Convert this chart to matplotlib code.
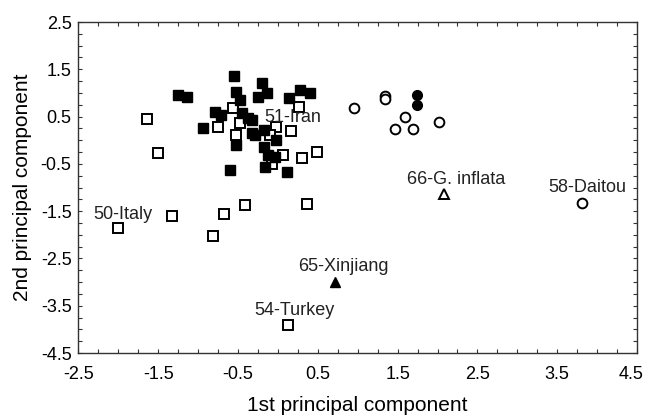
import numpy as np
import matplotlib
matplotlib.use("Agg")
import matplotlib.pyplot as plt
import matplotlib.transforms as mtransforms
from matplotlib.ticker import MultipleLocator

# filled squares
fsq_x = [-0.55, -1.25, -1.14, -0.53, -0.48, -0.20, -0.14, -0.25, 0.14, 0.28,
         0.40, -0.79, -0.71, -0.94, -0.45, -0.37, -0.52, -0.33, -0.60, -0.33,
         -0.18, -0.29, -0.02, -0.18, -0.12, -0.04, -0.16, 0.11]
fsq_y = [1.36, 0.96, 0.91, 1.01, 0.85, 1.20, 0.99, 0.92, 0.89, 1.06,
         0.99, 0.60, 0.53, 0.25, 0.57, 0.46, -0.10, 0.15, -0.63, 0.43,
         0.22, 0.11, 0.01, -0.14, -0.31, -0.35, -0.56, -0.67]

# open squares
osq_x = [-0.56, -0.75, -0.48, -0.52, -1.50, -1.64, 0.27, -0.03, 0.16, -0.10,
         0.06, 0.30, 0.49, -0.07, -2.00, -1.33, -0.68, -0.82, -0.41, 0.36, 0.13]
osq_y = [0.68, 0.27, 0.36, 0.11, -0.27, 0.45, 0.71, 0.29, 0.20, 0.11,
         -0.31, -0.37, -0.24, -0.51, -1.86, -1.60, -1.57, -2.02, -1.38, -1.35, -3.91]

# open circles
oci_x = [0.95, 1.34, 1.34, 1.59, 1.47, 1.69, 2.02, 3.81]
oci_y = [0.69, 0.94, 0.88, 0.49, 0.24, 0.24, 0.38, -1.32]

# filled circles
fci_x = [1.74, 1.74]
fci_y = [0.96, 0.75]

# triangles
otri_x, otri_y = [2.08], [-1.14]
ftri_x, ftri_y = [0.72], [-2.99]

labels = ["50-Italy", "51-Iran", "54-Turkey", "58-Daitou", "65-Xinjiang", "66-G. inflata"]
label_x = [-1.94, 0.18, 0.21, 3.88, 0.82, 2.23]
label_y = [-1.58, 0.49, -3.60, -1.00, -2.68, -0.83]

ticks = [-2.5, -1.5, -0.5, 0.5, 1.5, 2.5, 3.5, 4.5]
yticks = [-4.5, -3.5, -2.5, -1.5, -0.5, 0.5, 1.5, 2.5]

plt.rcParams['font.family'] = ['Liberation Sans', 'DejaVu Sans']

fig = plt.figure(figsize=(6.46, 4.16), dpi=100)
ax = fig.add_axes([0.1215, 0.1514, 0.8645, 0.7957])

ms = 7
ax.plot(osq_x, osq_y, 's', ms=ms, mfc='white', mec='black', mew=1.4, ls='none')
ax.plot(fsq_x, fsq_y, 's', ms=ms, mfc='black', mec='black', mew=1.0, ls='none')
ax.plot(oci_x, oci_y, 'o', ms=ms, mfc='white', mec='black', mew=1.4, ls='none')
ax.plot(fci_x, fci_y, 'o', ms=ms, mfc='black', mec='black', mew=1.0, ls='none')
ax.plot(otri_x, otri_y, '^', ms=ms, mfc='white', mec='black', mew=1.4, ls='none')
ax.plot(ftri_x, ftri_y, '^', ms=ms, mfc='black', mec='black', mew=1.0, ls='none')

for t, x, y in zip(labels, label_x, label_y):
    ax.text(x, y, t, fontsize=13, ha='center', va='center', color='#222222')

ax.set_xlim(-2.5, 4.5)
ax.set_ylim(-4.5, 2.5)
ax.xaxis.set_minor_locator(MultipleLocator(0.25))
ax.yaxis.set_minor_locator(MultipleLocator(0.25))
ax.set_xticks(ticks)
ax.set_yticks(yticks)
ax.set_xticklabels(["%.1f" % v for v in ticks])
ax.set_yticklabels(["%.1f" % v for v in yticks])

ax.tick_params(which='both', direction='in', top=True, right=True,
               length=3, width=0.8, color='#333333', labelsize=13)
ax.tick_params(axis='x', pad=9)
ax.tick_params(axis='y', pad=5)
for s in ax.spines.values():
    s.set_color('#333333')
    s.set_linewidth(1.0)

# keep the last x tick label inside the figure
last = ax.get_xticklabels()[-1]
last.set_horizontalalignment('right')
last.set_transform(last.get_transform() +
                   mtransforms.ScaledTranslation(5 / 72, 0, fig.dpi_scale_trans))

ax.set_xlabel("1st principal component", fontsize=15, labelpad=9.5)
ax.set_ylabel("2nd principal component", fontsize=15, labelpad=6)

fig.savefig("out.png", dpi=100)
